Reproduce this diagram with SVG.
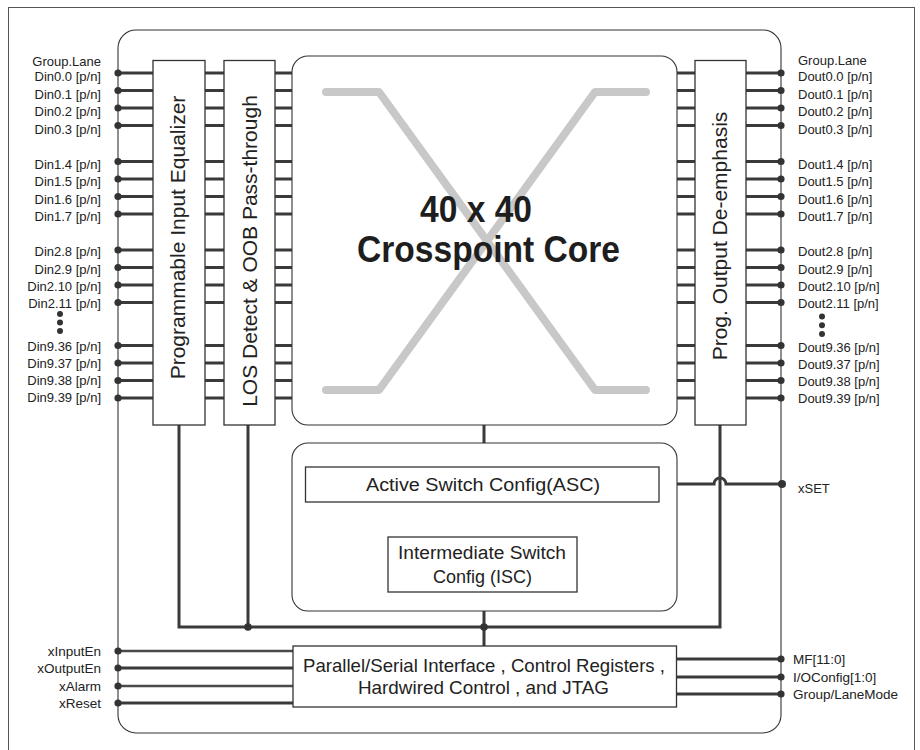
<svg xmlns="http://www.w3.org/2000/svg" width="920" height="750" viewBox="0 0 920 750">
<style>
.ln{stroke:#3a3a3a;stroke-width:3;fill:none}
.ln2{stroke:#4a4a4a;stroke-width:2.4;fill:none}
.fr{stroke:#333;stroke-width:1.1;fill:none}
.box{fill:#fff;stroke:#333;stroke-width:1.3}
.rbox{fill:#fff;stroke:#333;stroke-width:1.1}
.dot{fill:#333}
.lbl{font-family:"Liberation Sans",Arial,sans-serif;font-size:13px;fill:#222}
.lr{text-anchor:end}
.big{font-family:"Liberation Sans",Arial,sans-serif;font-size:21px;fill:#222;text-anchor:middle}
.mid{font-family:"Liberation Sans",Arial,sans-serif;font-size:18px;fill:#222;text-anchor:middle}
.core{font-family:"Liberation Sans",Arial,sans-serif;font-size:36px;font-weight:bold;fill:#1e1e1e}
.x{stroke:#c8c8c8;stroke-width:8;fill:none;stroke-linecap:round;stroke-linejoin:round}
</style>
<rect x="8.5" y="7.5" width="906" height="746" fill="#fff" stroke="#555" stroke-width="1"/>
<g id="chip-frame"><rect class="fr" x="118" y="30" width="663" height="703" rx="18"/></g>

<g id="connectors">
<path class="ln" d="M118,73H153M205,73H224M275,73H292M677,73H695M746,73H781
M118,90.5H153M205,90.5H224M275,90.5H292M677,90.5H695M746,90.5H781
M118,108H153M205,108H224M275,108H292M677,108H695M746,108H781
M118,125.5H153M205,125.5H224M275,125.5H292M677,125.5H695M746,125.5H781
M118,161.5H153M205,161.5H224M275,161.5H292M677,161.5H695M746,161.5H781
M118,179H153M205,179H224M275,179H292M677,179H695M746,179H781
M118,196.5H153M205,196.5H224M275,196.5H292M677,196.5H695M746,196.5H781
M118,214H153M205,214H224M275,214H292M677,214H695M746,214H781
M118,250H153M205,250H224M275,250H292M677,250H695M746,250H781
M118,267.5H153M205,267.5H224M275,267.5H292M677,267.5H695M746,267.5H781
M118,285H153M205,285H224M275,285H292M677,285H695M746,285H781
M118,302.5H153M205,302.5H224M275,302.5H292M677,302.5H695M746,302.5H781
M118,345.5H153M205,345.5H224M275,345.5H292M677,345.5H695M746,345.5H781
M118,363H153M205,363H224M275,363H292M677,363H695M746,363H781
M118,380.5H153M205,380.5H224M275,380.5H292M677,380.5H695M746,380.5H781
M118,398H153M205,398H224M275,398H292M677,398H695M746,398H781"/>
<path class="ln" d="M179,425V627H720V425"/>
<path class="ln" d="M248,425V627"/>
<path class="ln" d="M484,425V443M484,502V537M484,611V646"/>
<path class="ln" d="M659,484H714A6,6 0 0 1 726,484H782"/>
<path class="ln2" d="M118,651H293M118,686H293"/>
<path class="ln" d="M118,668H293M118,703H293"/>
<path class="ln" d="M676,659H781M676,677H781M676,694H781"/>
<circle class="dot" cx="248" cy="627" r="3.8"/>
<circle class="dot" cx="484" cy="627" r="3.8"/>
<circle class="dot" cx="782" cy="484" r="4"/>
</g>

<g id="pins-left">
<text class="lbl lr" x="101" y="66">Group.Lane</text>
<g class="dot">
<circle cx="118" cy="73" r="3.6"/><circle cx="118" cy="90.5" r="3.6"/><circle cx="118" cy="108" r="3.6"/><circle cx="118" cy="125.5" r="3.6"/>
<circle cx="118" cy="161.5" r="3.6"/><circle cx="118" cy="179" r="3.6"/><circle cx="118" cy="196.5" r="3.6"/><circle cx="118" cy="214" r="3.6"/>
<circle cx="118" cy="250" r="3.6"/><circle cx="118" cy="267.5" r="3.6"/><circle cx="118" cy="285" r="3.6"/><circle cx="118" cy="302.5" r="3.6"/>
<circle cx="118" cy="345.5" r="3.6"/><circle cx="118" cy="363" r="3.6"/><circle cx="118" cy="380.5" r="3.6"/><circle cx="118" cy="398" r="3.6"/>
<circle cx="60" cy="314" r="3"/><circle cx="60" cy="322.5" r="3"/><circle cx="60" cy="331" r="3"/>
<circle cx="118" cy="651" r="3.6"/><circle cx="118" cy="668" r="3.6"/><circle cx="118" cy="686" r="3.6"/><circle cx="118" cy="703" r="3.6"/>
</g>
<text class="lbl lr" x="101" y="81">Din0.0 [p/n]</text>
<text class="lbl lr" x="101" y="98.5">Din0.1 [p/n]</text>
<text class="lbl lr" x="101" y="116">Din0.2 [p/n]</text>
<text class="lbl lr" x="101" y="133.5">Din0.3 [p/n]</text>
<text class="lbl lr" x="101" y="168.5">Din1.4 [p/n]</text>
<text class="lbl lr" x="101" y="186">Din1.5 [p/n]</text>
<text class="lbl lr" x="101" y="203.5">Din1.6 [p/n]</text>
<text class="lbl lr" x="101" y="221">Din1.7 [p/n]</text>
<text class="lbl lr" x="101" y="256">Din2.8 [p/n]</text>
<text class="lbl lr" x="101" y="273.5">Din2.9 [p/n]</text>
<text class="lbl lr" x="101" y="290.5">Din2.10 [p/n]</text>
<text class="lbl lr" x="101" y="308">Din2.11 [p/n]</text>
<text class="lbl lr" x="101" y="350.5">Din9.36 [p/n]</text>
<text class="lbl lr" x="101" y="367.5">Din9.37 [p/n]</text>
<text class="lbl lr" x="101" y="384.5">Din9.38 [p/n]</text>
<text class="lbl lr" x="101" y="401.5">Din9.39 [p/n]</text>
<text class="lbl lr" x="101" y="655.5" style="font-size:13.5px">xInputEn</text>
<text class="lbl lr" x="101" y="672.5" style="font-size:13.5px">xOutputEn</text>
<text class="lbl lr" x="101" y="690.5" style="font-size:13.5px">xAlarm</text>
<text class="lbl lr" x="101" y="707.5" style="font-size:13.5px">xReset</text>
</g>

<g id="pins-right">
<text class="lbl" x="798" y="64.5">Group.Lane</text>
<g class="dot">
<circle cx="781" cy="73" r="3.6"/><circle cx="781" cy="90.5" r="3.6"/><circle cx="781" cy="108" r="3.6"/><circle cx="781" cy="125.5" r="3.6"/>
<circle cx="781" cy="161.5" r="3.6"/><circle cx="781" cy="179" r="3.6"/><circle cx="781" cy="196.5" r="3.6"/><circle cx="781" cy="214" r="3.6"/>
<circle cx="781" cy="250" r="3.6"/><circle cx="781" cy="267.5" r="3.6"/><circle cx="781" cy="285" r="3.6"/><circle cx="781" cy="302.5" r="3.6"/>
<circle cx="781" cy="345.5" r="3.6"/><circle cx="781" cy="363" r="3.6"/><circle cx="781" cy="380.5" r="3.6"/><circle cx="781" cy="398" r="3.6"/>
<circle cx="822" cy="316.5" r="3"/><circle cx="822" cy="325.3" r="3"/><circle cx="822" cy="334" r="3"/>
<circle cx="781" cy="659" r="3.6"/><circle cx="781" cy="677" r="3.6"/><circle cx="781" cy="694" r="3.6"/>
</g>
<text class="lbl" x="798" y="81">Dout0.0 [p/n]</text>
<text class="lbl" x="798" y="98.5">Dout0.1 [p/n]</text>
<text class="lbl" x="798" y="116">Dout0.2 [p/n]</text>
<text class="lbl" x="798" y="133.5">Dout0.3 [p/n]</text>
<text class="lbl" x="798" y="168.5">Dout1.4 [p/n]</text>
<text class="lbl" x="798" y="186">Dout1.5 [p/n]</text>
<text class="lbl" x="798" y="203.5">Dout1.6 [p/n]</text>
<text class="lbl" x="798" y="221">Dout1.7 [p/n]</text>
<text class="lbl" x="798" y="256">Dout2.8 [p/n]</text>
<text class="lbl" x="798" y="273.5">Dout2.9 [p/n]</text>
<text class="lbl" x="798" y="290.5">Dout2.10 [p/n]</text>
<text class="lbl" x="798" y="308">Dout2.11 [p/n]</text>
<text class="lbl" x="798" y="352">Dout9.36 [p/n]</text>
<text class="lbl" x="798" y="369">Dout9.37 [p/n]</text>
<text class="lbl" x="798" y="386">Dout9.38 [p/n]</text>
<text class="lbl" x="798" y="403">Dout9.39 [p/n]</text>
<text class="lbl" x="798" y="493">xSET</text>
<text class="lbl" x="793" y="663.5" style="font-size:13.5px">MF[11:0]</text>
<text class="lbl" x="793" y="681.5" style="font-size:13.5px">I/OConfig[1:0]</text>
<text class="lbl" x="793" y="698.5" style="font-size:13.5px">Group/LaneMode</text>
</g>

<g id="pie">
<rect class="box" x="153" y="60.5" width="52" height="364.5"/>
<text class="big" transform="translate(185,237.5) rotate(-90)">Programmable Input Equalizer</text>
</g>
<g id="los">
<rect class="box" x="224" y="60.5" width="51" height="364.5"/>
<text class="big" transform="translate(257,251) rotate(-90)">LOS Detect &amp; OOB Pass-through</text>
</g>
<g id="core">
<rect class="rbox" x="292" y="56" width="385" height="369" rx="16"/>
<path class="x" d="M326,92H379L595,390H646M646,92H595L379,390H326"/>
<text class="core" x="420" y="222" textLength="112" lengthAdjust="spacingAndGlyphs">40 x 40</text>
<text class="core" x="357" y="262" textLength="263" lengthAdjust="spacingAndGlyphs">Crosspoint Core</text>
</g>
<g id="pode">
<rect class="box" x="695" y="60.5" width="51" height="364.5"/>
<text class="big" transform="translate(727,236) rotate(-90)">Prog. Output De-emphasis</text>
</g>
<g id="config">
<rect class="rbox" x="292" y="443" width="385" height="168" rx="16"/>
</g>
<g id="asc">
<rect class="box" x="305.5" y="467" width="353.5" height="35"/>
<text class="mid" x="483" y="490.5" textLength="234" lengthAdjust="spacingAndGlyphs">Active Switch Config(ASC)</text>
</g>
<g id="isc">
<rect class="box" x="388" y="537" width="189" height="55"/>
<text class="mid" x="482" y="559" textLength="168" lengthAdjust="spacingAndGlyphs">Intermediate Switch</text>
<text class="mid" x="482.5" y="583">Config (ISC)</text>
</g>
<g id="ctrl">
<rect class="box" x="293" y="646" width="383.5" height="61"/>
<text class="mid" x="484" y="672" style="font-size:18.5px" textLength="362" lengthAdjust="spacingAndGlyphs">Parallel/Serial Interface , Control Registers ,</text>
<text class="mid" x="483.5" y="693.5" style="font-size:18.5px" textLength="251" lengthAdjust="spacingAndGlyphs">Hardwired Control , and JTAG</text>
</g>
</svg>
